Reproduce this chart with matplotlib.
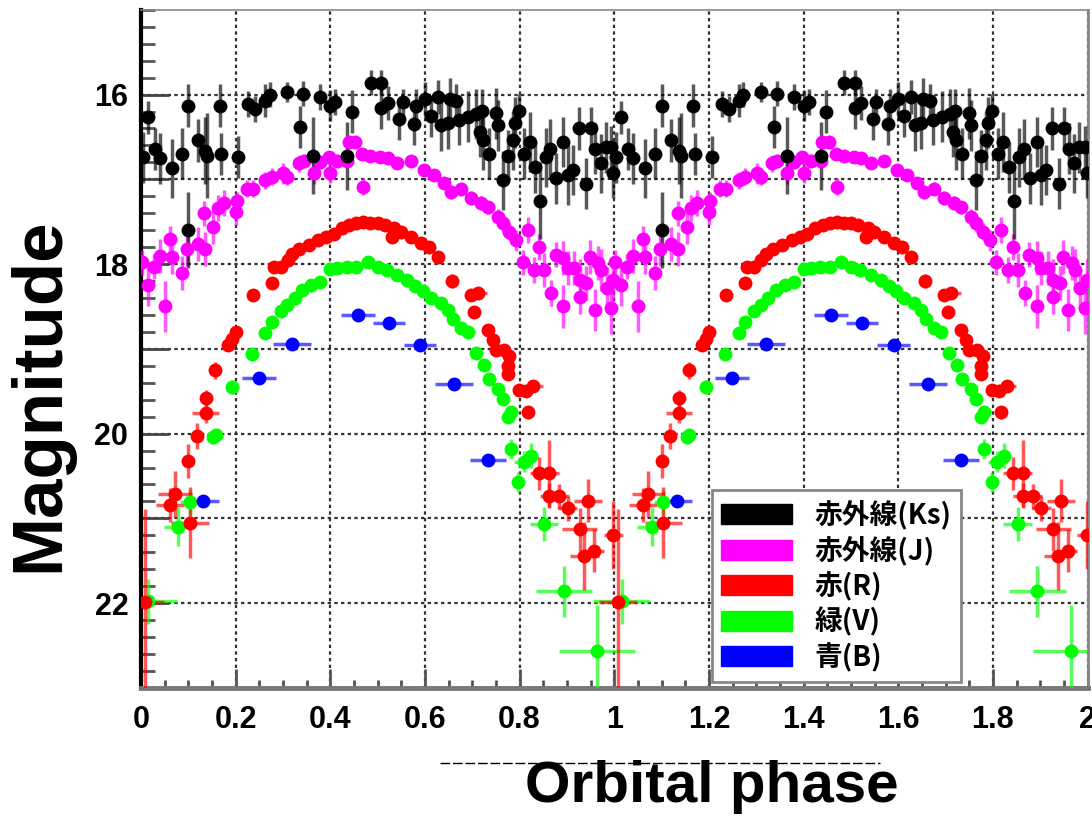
import numpy as np
import matplotlib
matplotlib.use("Agg")
import matplotlib.pyplot as plt
from matplotlib.colors import to_rgba
from matplotlib.patches import Patch
from matplotlib.lines import Line2D

# =====================================================
# DATA  (one orbit, phase 0-1; drawn twice, 0-2)
# =====================================================

ks_phase = [0.004, 0.015, 0.030, 0.040, 0.065, 0.087, 0.100, 0.100, 0.120, 0.136,
            0.140, 0.167, 0.170, 0.206, 0.227, 0.242, 0.263, 0.273, 0.309, 0.337,
            0.343, 0.364, 0.379, 0.400, 0.411, 0.436, 0.447, 0.486, 0.508, 0.508,
            0.521, 0.546, 0.553, 0.578, 0.582, 0.600, 0.613, 0.627, 0.635, 0.648,
            0.652, 0.666, 0.673, 0.692, 0.709, 0.716, 0.720, 0.722, 0.735, 0.750,
            0.754, 0.765, 0.775, 0.786, 0.790, 0.798, 0.810, 0.822, 0.833, 0.844,
            0.855, 0.865, 0.878, 0.892, 0.902, 0.913, 0.925, 0.940, 0.950, 0.960,
            0.972, 0.982, 0.994, 0.998]
ks_mag = [16.74, 16.27, 16.64, 16.75, 16.87, 16.70, 16.13, 17.60, 16.54, 16.66,
          16.72, 16.13, 16.70, 16.74, 16.11, 16.17, 16.07, 16.00, 15.97, 16.38,
          15.99, 16.72, 16.03, 16.13, 16.09, 16.72, 16.20, 15.86, 15.86, 16.16,
          16.10, 16.29, 16.09, 16.35, 16.13, 16.05, 16.25, 16.03, 16.36, 16.34,
          16.05, 16.07, 16.30, 16.26, 16.23, 16.44, 16.19, 16.54, 16.70, 16.22,
          16.36, 17.01, 16.72, 16.54, 16.33, 16.19, 16.70, 16.56, 16.86, 17.25,
          16.74, 16.64, 16.99, 16.56, 16.95, 16.89, 16.40, 17.05, 16.40, 16.64,
          16.81, 16.62, 16.62, 16.92]
ks_err = [0.30, 0.20, 0.25, 0.30, 0.35, 0.30, 0.25, 0.45, 0.25, 0.40,
          0.50, 0.25, 0.25, 0.25, 0.15, 0.15, 0.20, 0.15, 0.12, 0.25,
          0.15, 0.45, 0.15, 0.18, 0.15, 0.40, 0.25, 0.15, 0.15, 0.25,
          0.20, 0.25, 0.15, 0.25, 0.20, 0.20, 0.25, 0.20, 0.30, 0.30,
          0.25, 0.20, 0.30, 0.30, 0.30, 0.30, 0.25, 0.35, 0.30, 0.30,
          0.30, 0.35, 0.30, 0.35, 0.30, 0.20, 0.30, 0.35, 0.30, 0.45,
          0.35, 0.35, 0.30, 0.30, 0.35, 0.30, 0.25, 0.30, 0.25, 0.30,
          0.35, 0.30, 0.25, 0.30]
ks_dphase = 0.010

j_phase = [0.002, 0.015, 0.027, 0.040, 0.051, 0.061, 0.065, 0.086, 0.097, 0.120,
           0.134, 0.135, 0.153, 0.163, 0.175, 0.200, 0.203, 0.224, 0.237, 0.263,
           0.277, 0.301, 0.309, 0.333, 0.344, 0.365, 0.379, 0.397, 0.400, 0.415,
           0.436, 0.439, 0.453, 0.468, 0.470, 0.485, 0.506, 0.521, 0.542, 0.570,
           0.598, 0.619, 0.640, 0.655, 0.676, 0.697, 0.718, 0.733, 0.754, 0.765,
           0.778, 0.793, 0.807, 0.818, 0.831, 0.842, 0.852, 0.867, 0.877, 0.892,
           0.892, 0.902, 0.916, 0.927, 0.927, 0.941, 0.948, 0.959, 0.966, 0.973,
           0.984, 0.994, 0.998]
j_mag = [17.98, 18.25, 18.03, 17.90, 18.50, 17.70, 17.92, 18.11, 17.82, 17.76,
         17.40, 17.82, 17.56, 17.34, 17.28, 17.39, 17.25, 17.11, 17.11, 17.01,
         16.97, 16.93, 16.97, 16.81, 16.78, 16.93, 16.80, 16.74, 16.92, 16.78,
         16.78, 16.56, 16.56, 16.70, 17.09, 16.72, 16.74, 16.75, 16.81, 16.78,
         16.89, 16.95, 17.04, 17.15, 17.11, 17.22, 17.28, 17.33, 17.45, 17.52,
         17.62, 17.72, 17.98, 17.60, 18.07, 17.80, 18.07, 18.34, 17.89, 17.93,
         18.50, 18.05, 18.05, 18.19, 18.39, 18.22, 17.92, 18.54, 17.99, 18.07,
         18.28, 18.52, 18.19]
j_err = [0.15, 0.25, 0.15, 0.20, 0.30, 0.15, 0.20, 0.20, 0.20, 0.20,
         0.15, 0.20, 0.20, 0.15, 0.15, 0.15, 0.10, 0.10, 0.10, 0.10,
         0.10, 0.12, 0.10, 0.10, 0.08, 0.12, 0.08, 0.08, 0.12, 0.08,
         0.08, 0.05, 0.05, 0.06, 0.10, 0.06, 0.06, 0.06, 0.06, 0.06,
         0.06, 0.06, 0.06, 0.08, 0.08, 0.08, 0.08, 0.08, 0.10, 0.10,
         0.10, 0.12, 0.15, 0.15, 0.15, 0.15, 0.20, 0.15, 0.15, 0.20,
         0.25, 0.20, 0.20, 0.25, 0.20, 0.20, 0.20, 0.25, 0.20, 0.25,
         0.25, 0.30, 0.25]
j_dphase = 0.010

r_phase = [0.008, 0.061, 0.072, 0.100, 0.104, 0.118, 0.137, 0.137, 0.157, 0.185,
           0.193, 0.200, 0.237, 0.277, 0.281, 0.296, 0.310, 0.320, 0.335, 0.355,
           0.375, 0.392, 0.407, 0.425, 0.440, 0.455, 0.470, 0.485, 0.500, 0.515,
           0.531, 0.535, 0.549, 0.570, 0.591, 0.608, 0.627, 0.657, 0.697, 0.712,
           0.704, 0.733, 0.743, 0.750, 0.767, 0.778, 0.775, 0.775, 0.799, 0.813,
           0.829, 0.818, 0.842, 0.863, 0.863, 0.884, 0.902, 0.944, 0.927, 0.937,
           0.958, 0.998]
r_mag = [21.99, 20.84, 20.71, 20.32, 21.05, 20.03, 19.76, 19.58, 19.25, 18.95,
         18.88, 18.80, 18.37, 18.22, 18.03, 18.03, 17.95, 17.88, 17.82, 17.78,
         17.72, 17.68, 17.64, 17.58, 17.54, 17.52, 17.50, 17.51, 17.52, 17.54,
         17.68, 17.58, 17.62, 17.68, 17.75, 17.80, 17.92, 18.20, 18.36, 18.34,
         18.57, 18.78, 18.90, 19.01, 19.01, 19.09, 19.20, 19.30, 19.48, 19.50,
         19.44, 19.75, 20.47, 20.47, 20.73, 20.74, 20.88, 20.79, 21.13, 21.44,
         21.38, 21.20]
r_err = [1.10, 0.20, 0.27, 0.20, 0.42, 0.15, 0.12, 0.10, 0.10, 0.05,
         0.05, 0.05, 0.05, 0.05, 0.05, 0.05, 0.05, 0.05, 0.05, 0.05,
         0.05, 0.05, 0.05, 0.05, 0.05, 0.05, 0.05, 0.05, 0.05, 0.05,
         0.05, 0.05, 0.05, 0.05, 0.05, 0.05, 0.05, 0.08, 0.05, 0.05,
         0.06, 0.06, 0.06, 0.06, 0.06, 0.06, 0.06, 0.06, 0.06, 0.06,
         0.06, 0.08, 0.20, 0.40, 0.15, 0.15, 0.15, 0.25, 0.25, 0.40,
         0.25, 0.40]
r_dphase = [0.040, 0.030, 0.035, 0.010, 0.040, 0.010, 0.028, 0.010, 0.010, 0.010,
            0.010, 0.010, 0.010, 0.010, 0.010, 0.010, 0.010, 0.010, 0.010, 0.010,
            0.010, 0.010, 0.010, 0.010, 0.010, 0.010, 0.010, 0.010, 0.010, 0.010,
            0.010, 0.010, 0.010, 0.010, 0.010, 0.010, 0.010, 0.010, 0.010, 0.020,
            0.010, 0.010, 0.010, 0.010, 0.010, 0.010, 0.010, 0.010, 0.010, 0.010,
            0.020, 0.010, 0.020, 0.020, 0.020, 0.020, 0.020, 0.030, 0.037, 0.030,
            0.020, 0.020]

v_phase = [0.016, 0.079, 0.103, 0.153, 0.158, 0.193, 0.235, 0.263, 0.277, 0.295,
           0.309, 0.325, 0.341, 0.360, 0.379, 0.400, 0.415, 0.435, 0.455, 0.479,
           0.500, 0.520, 0.542, 0.563, 0.580, 0.595, 0.612, 0.633, 0.648, 0.659,
           0.676, 0.690, 0.707, 0.725, 0.735, 0.754, 0.765, 0.782, 0.775, 0.782,
           0.809, 0.824, 0.797, 0.852, 0.894, 0.964]
v_mag = [21.98, 21.10, 20.81, 20.04, 20.02, 19.45, 19.06, 18.81, 18.68, 18.55,
         18.48, 18.40, 18.30, 18.25, 18.21, 18.06, 18.05, 18.03, 18.03, 17.98,
         18.03, 18.07, 18.13, 18.19, 18.26, 18.32, 18.40, 18.46, 18.54, 18.65,
         18.75, 18.80, 19.05, 19.19, 19.36, 19.47, 19.59, 19.75, 19.80, 20.18,
         20.33, 20.26, 20.57, 21.07, 21.86, 22.57]
v_err = [0.27, 0.23, 0.15, 0.08, 0.08, 0.08, 0.06, 0.05, 0.05, 0.05,
         0.05, 0.05, 0.05, 0.05, 0.05, 0.05, 0.05, 0.05, 0.05, 0.05,
         0.05, 0.05, 0.05, 0.05, 0.05, 0.05, 0.05, 0.05, 0.05, 0.05,
         0.05, 0.05, 0.05, 0.06, 0.06, 0.06, 0.06, 0.06, 0.06, 0.12,
         0.12, 0.15, 0.12, 0.20, 0.30, 0.55]
v_dphase = [0.060, 0.030, 0.020, 0.010, 0.010, 0.010, 0.010, 0.010, 0.010, 0.010,
            0.010, 0.010, 0.010, 0.010, 0.010, 0.010, 0.010, 0.010, 0.010, 0.010,
            0.010, 0.010, 0.010, 0.010, 0.010, 0.010, 0.010, 0.010, 0.010, 0.010,
            0.010, 0.010, 0.010, 0.010, 0.010, 0.010, 0.010, 0.010, 0.010, 0.010,
            0.020, 0.015, 0.010, 0.030, 0.060, 0.080]

b_phase = [0.132, 0.249, 0.320, 0.458, 0.524, 0.590, 0.662, 0.733]
b_mag = [20.80, 19.34, 18.94, 18.60, 18.69, 18.96, 19.41, 20.31]
b_err = [0.06, 0.05, 0.05, 0.05, 0.05, 0.05, 0.06, 0.07]
b_dphase = [0.032, 0.036, 0.040, 0.036, 0.034, 0.034, 0.040, 0.038]

labels = ["赤外線(Ks)", "赤外線(J)", "赤(R)", "緑(V)", "青(B)"]
colors = ["#000000", "#ff00ff", "#ff0000", "#00ff00", "#0000ff"]

x_ticks = [0, 0.2, 0.4, 0.6, 0.8, 1, 1.2, 1.4, 1.6, 1.8, 2]
x_tick_labels = ["0", "0.2", "0.4", "0.6", "0.8", "1", "1.2", "1.4", "1.6", "1.8", "2"]
y_ticks = [16, 17, 18, 19, 20, 21, 22]
y_tick_labels = ["16", "", "18", "", "20", "", "22"]

# =====================================================
# FIGURE
# =====================================================

plt.rcParams['font.family'] = ['Liberation Sans', 'DejaVu Sans']

fig = plt.figure(figsize=(10.92, 8.17), dpi=100)
ax = fig.add_axes([0.129, 0.158, 0.867, 0.830])

series = [
    (v_phase, v_mag, v_err, v_dphase, colors[3]),
    (r_phase, r_mag, r_err, r_dphase, colors[2]),
    (b_phase, b_mag, b_err, b_dphase, colors[4]),
    (j_phase, j_mag, j_err, j_dphase, colors[1]),
    (ks_phase, ks_mag, ks_err, ks_dphase, colors[0]),
]

for ph, mag, err, dph, c in series:
    ph = np.array(ph)
    for cycle in [0, 1]:
        ax.errorbar(ph + cycle, mag, yerr=err, xerr=dph,
                    fmt='o', color=c, ms=10, mew=0,
                    ecolor=to_rgba(c, 0.65), elinewidth=2.5, capsize=0,
                    zorder=3)

ax.set_xlim(0, 2)
ax.set_ylim(23, 15)

ax.set_xticks(x_ticks)
ax.set_xticklabels(x_tick_labels)
ax.set_xticks(np.arange(0, 2.001, 0.05), minor=True)
ax.set_yticks(y_ticks)
ax.set_yticklabels(y_tick_labels)
ax.set_yticks(np.arange(15, 23.001, 0.2), minor=True)

for lab in ax.get_xticklabels() + ax.get_yticklabels():
    lab.set_fontweight("bold")
    lab.set_fontsize(22)

ax.tick_params(axis='x', which='major', direction='in', length=14, width=2,
               color='#555555', pad=12)
ax.tick_params(axis='x', which='minor', direction='in', length=6, width=2,
               color='#555555')
ax.tick_params(axis='y', which='major', direction='in', length=20, width=2,
               color='#444444', pad=9)
ax.tick_params(axis='y', which='minor', direction='in', length=10, width=2,
               color='#555555')

ax.grid(True, which='major', linestyle=(0, (1.5, 1.5)), color='#333333',
        linewidth=1.6)
ax.set_axisbelow(True)

ax.spines['left'].set_color('black')
ax.spines['left'].set_linewidth(3)
ax.spines['bottom'].set_color('#777777')
ax.spines['bottom'].set_linewidth(3.5)
ax.spines['top'].set_color('#888888')
ax.spines['top'].set_linewidth(1.2)
ax.spines['right'].set_color('#888888')
ax.spines['right'].set_linewidth(2)

# =====================================================
# LEGEND
# =====================================================

handles = [Patch(facecolor=c, edgecolor=c) for c in colors]
leg = ax.legend(handles, labels, loc='lower left',
                bbox_to_anchor=(0.603, 0.009),
                prop={'family': ['Noto Sans CJK JP', 'DejaVu Sans'],
                      'weight': 'bold', 'size': 20},
                handlelength=2.55, handleheight=0.72, handletextpad=0.8,
                labelspacing=0.22, borderpad=0.35, borderaxespad=0,
                fancybox=False, framealpha=1, edgecolor='#888888')
leg.get_frame().set_linewidth(2)
leg.set_zorder(5)

# =====================================================
# AXIS TITLES
# =====================================================

fig.text(0.037, 0.517, "Magnitude", rotation=90, fontsize=51,
         fontweight='bold', ha='center', va='center')
fig.text(0.652, 0.037, "Orbital phase", fontsize=42,
         fontweight='bold', ha='center', va='center')

fig.add_artist(Line2D([0.403, 0.806], [0.066, 0.066], transform=fig.transFigure,
                      color='black', linewidth=1, dashes=(7, 2)))

fig.savefig("out.png", dpi=100)
